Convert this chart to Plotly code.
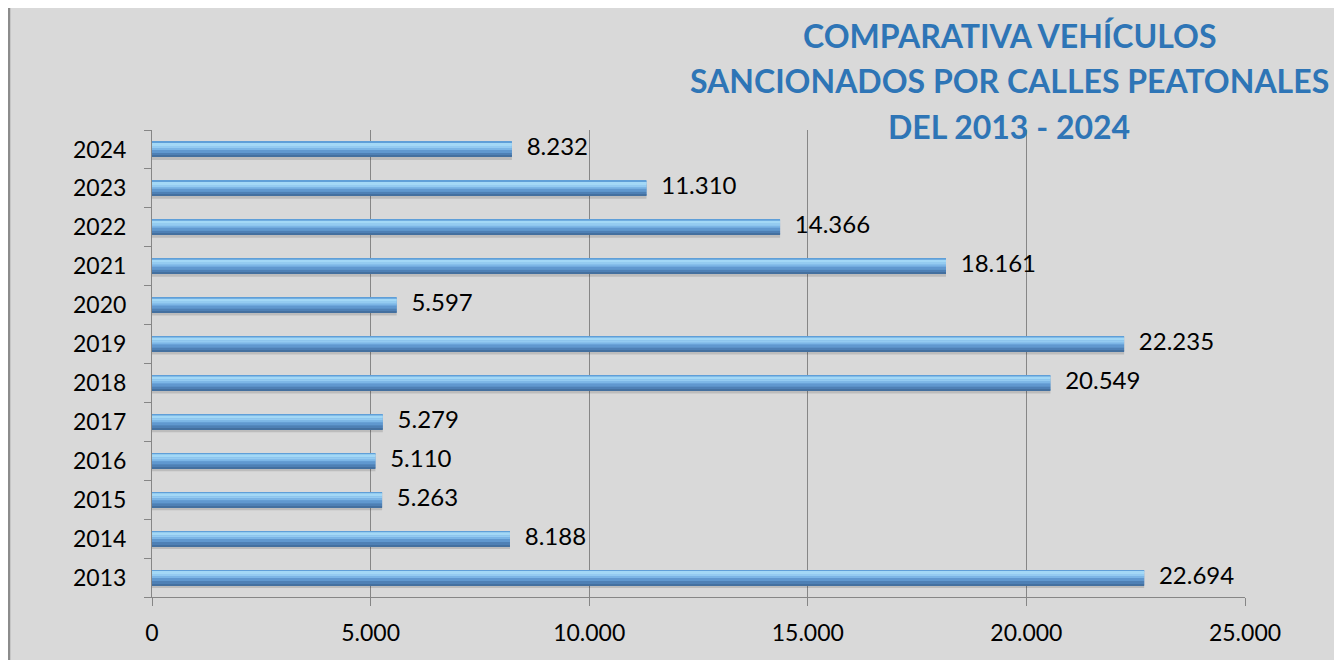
import plotly.graph_objects as go

years = ["2013", "2014", "2015", "2016", "2017", "2018", "2019", "2020", "2021", "2022", "2023", "2024"]
values = [22694, 8188, 5263, 5110, 5279, 20549, 22235, 5597, 18161, 14366, 11310, 8232]
x_ticks = [0, 5000, 10000, 15000, 20000, 25000]
title_lines = ["COMPARATIVA VEHÍCULOS", "SANCIONADOS POR CALLES PEATONALES", "DEL 2013 - 2024"]

def fmt(v):
    return f"{v:,}".replace(",", ".")

# page has an 8px body margin: draw in figure px = target px - 8
OFF = 8
W, H = 1342 - OFF, 660 - OFF
L, R, T, B = 152 - OFF, 1245 - OFF, 130 - OFF, 597 - OFF
pw, ph = R - L, B - T

def px_x(px):
    return (px - OFF - L) / pw

def px_y(py):
    return (B - (py - OFF)) / ph

BW = 0.385
UNIT = BW / 15.0  # one pixel in category units (bar is ~15px thick)
fig = go.Figure()

# (px from top start, px from top end, colour) -> bevelled gradient look
bands = [
    (3, 18, "rgba(40,40,40,0.16)"),   # shadow
    (0, 15, "#6ea8dc"),
    (0, 1, "#5f9fd8"),
    (1, 4, "#a3d8f6"),
    (4, 6, "#94cbf1"),
    (6, 8, "#7cb6e6"),
    (8, 11, "#6098cf"),
    (11, 14, "#4e80b5"),
    (14, 15, "#44709f"),
]
for t0, t1, col in bands:
    hi = BW / 2 - t0 * UNIT
    lo = BW / 2 - t1 * UNIT
    fig.add_trace(go.Bar(
        y=years, x=values, orientation="h",
        width=hi - lo, offset=lo,
        marker=dict(color=col, line=dict(width=0)),
        hoverinfo="skip", showlegend=False,
    ))

fig.add_trace(go.Scatter(
    y=years, x=values, mode="markers+text",
    text=[fmt(v) for v in values], textposition="middle right",
    marker=dict(size=22, color="rgba(0,0,0,0)"),
    textfont=dict(family="Lato", size=24, color="#000000"),
    hoverinfo="skip", showlegend=False, cliponaxis=False,
))

fig.add_shape(type="rect", xref="paper", yref="paper",
              x0=px_x(9), x1=px_x(1336), y0=px_y(668), y1=px_y(4),
              fillcolor="#d9d9d9", line=dict(color="#8c8c8c", width=2.5),
              layer="below")

title_y = [35, 80, 127]
for line, ty in zip(title_lines, title_y):
    fig.add_annotation(
        x=px_x(1009), y=px_y(ty), xref="paper", yref="paper", text=f"<b>{line}</b>",
        showarrow=False, xanchor="center", yanchor="middle",
        font=dict(family="Lato", size=32, color="#2e75b6"),
    )

fig.update_layout(
    width=W, height=H,
    margin=dict(l=L, r=W - R, t=T, b=H - B),
    paper_bgcolor="#ffffff", plot_bgcolor="rgba(0,0,0,0)",
    barmode="overlay", separators=",.",
    font=dict(family="Lato", size=23, color="#000000"),
    showlegend=False,
)
fig.update_xaxes(
    range=[0, 25000], tickvals=x_ticks, ticktext=[fmt(v) for v in x_ticks],
    showgrid=True, gridcolor="#868686", gridwidth=1,
    showline=True, linecolor="#868686", linewidth=1,
    ticks="outside", ticklen=8, tickcolor="#868686",
    tickfont=dict(family="Lato", size=23, color="#000000"),
    zeroline=False, ticklabelstandoff=7,
)
fig.update_yaxes(
    type="category", categoryorder="array", categoryarray=years,
    range=[-0.5, len(years) - 0.5],
    showgrid=False, showline=True, linecolor="#868686", linewidth=1,
    ticks="outside", ticklen=7, tickcolor="#868686", tickson="boundaries",
    tickfont=dict(family="Lato", size=23, color="#000000"),
    ticklabelstandoff=20,
)

fig.write_html("out.html")
